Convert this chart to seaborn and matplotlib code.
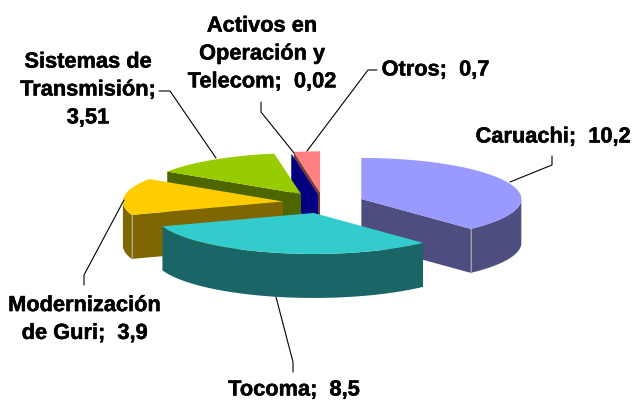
import numpy as np
import matplotlib
matplotlib.use('Agg')
import matplotlib.pyplot as plt
import matplotlib.patheffects as pe
import seaborn as sns
from matplotlib.patches import Polygon

# Data
names = ['Caruachi', 'Tocoma', 'Modernización de Guri', 'Sistemas de Transmisión',
         'Activos en Operación y Telecom', 'Otros']
values = [10.2, 8.5, 3.9, 3.51, 0.02, 0.7]
top_colors = ['#9999FF', '#33CCCC', '#FFCC00', '#99CC00', '#000080', '#FF8080']
wall_colors = ['#4D4D80', '#1A6666', '#806600', '#4D6600', '#000080', '#804040']
label_texts = ['Caruachi;  10,2', 'Tocoma;  8,5', 'Modernización\nde Guri;  3,9',
               'Sistemas de\nTransmisión;\n3,51', 'Activos en\nOperación y\nTelecom;  0,02',
               'Otros;  0,7']
label_x = [553, 294, 84.5, 88, 262, 435.5]
label_y = [137, 390, 319.5, 90, 54, 70]
leaders = [[(510, 182), (552, 165), (552, 156)],
           [(276, 297), (293, 362), (293, 372)],
           [(124, 200), (84, 275), (84, 285)],
           [(159, 91), (170, 91), (216, 158)],
           [(261, 102), (261, 112), (294, 153)],
           [(377, 70), (368, 70), (307, 151)]]
draw_order = [5, 0, 4, 3, 2, 1]
explode = [0.255, 0.255, 0.255, 0.255, 0.2, 0.255]

# Pie geometry, in pixels
cx, cy = 323.4, 202.8
a, b = 160, 41
depth = 44

sns.set_theme(style='white')
plt.rcParams['font.family'] = ['Liberation Sans', 'DejaVu Sans']

fig, ax = plt.subplots(figsize=(6.34, 4.01), dpi=100)
ax.set_position([0, 0, 1, 1])
ax.set_xlim(0, 634)
ax.set_ylim(401, 0)
ax.axis('off')

total = sum(values)
ends = np.cumsum(values) / total * 2 * np.pi
starts = ends - np.array(values) / total * 2 * np.pi


def rim(x0, y0, t):
    return np.column_stack([x0 + a * np.sin(t), y0 - b * np.cos(t)])


z = 1
for i in draw_order:
    mid = (starts[i] + ends[i]) / 2
    x0 = cx + explode[i] * a * np.sin(mid)
    y0 = cy - explode[i] * b * np.cos(mid)
    t = np.linspace(starts[i], ends[i], 120)
    arc = rim(x0, y0, t)
    down = np.array([0, depth])

    # radial face that looks at the viewer
    edge = None
    if np.sin(ends[i]) > 0.01:
        edge = ends[i]
    elif np.sin(starts[i]) < -0.01:
        edge = starts[i]
    if edge is not None:
        p = rim(x0, y0, np.array([edge]))[0]
        face = [(x0, y0), p, p + down, (x0, y0 + depth)]
        ax.add_patch(Polygon(face, fc=wall_colors[i], ec='none', zorder=z))

    # outer wall, only the part facing the viewer
    tw = t[(t > np.pi / 2) & (t < 3 * np.pi / 2)]
    if len(tw) > 1:
        front = rim(x0, y0, tw)
        wall = np.vstack([front, front[::-1] + down])
        ax.add_patch(Polygon(wall, fc=wall_colors[i], ec='none', zorder=z))
        if edge is not None:
            p = rim(x0, y0, np.array([edge]))[0]
            ax.plot([p[0], p[0]], [p[1], p[1] + depth], color='#B0B0B0', lw=0.6, zorder=z)

    top = np.vstack([[(x0, y0)], arc])
    ax.add_patch(Polygon(top, fc=top_colors[i], ec='none', zorder=z + 0.5))
    z += 1

for pts in leaders:
    xs, ys = zip(*pts)
    ax.plot(xs, ys, color='black', lw=0.8, zorder=20)

for txt, x, y in zip(label_texts, label_x, label_y):
    ax.text(x, y, txt, ha='center', va='center', ma='center', fontsize=15.7,
            fontweight='bold', color='black', linespacing=1.43, zorder=21,
            path_effects=[pe.withStroke(linewidth=0.35, foreground='black')])

fig.savefig('out.png', dpi=100, facecolor='white')
